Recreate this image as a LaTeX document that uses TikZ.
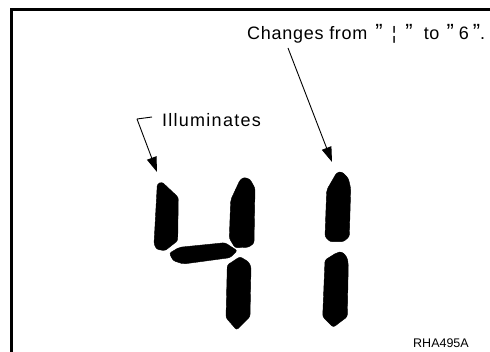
\documentclass[tikz,border=0pt]{standalone}
\usepackage{fontspec}
\setmainfont{Liberation Sans}
\usetikzlibrary{arrows.meta}
\newcommand\bigq{{\fontsize{22}{22}\selectfont ”}}
\tikzset{
  seg/.style={fill=black, draw=black, line width=0.4pt, rounded corners=2.2pt},
  pointer/.style={line width=0.9pt, -{Triangle[length=15pt,width=10pt]}},
  label/.style={anchor=base west, inner sep=0pt, font=\fontsize{18}{20}\selectfont},
  frame/.style={line width=3pt}
}
\begin{document}
\begin{tikzpicture}[x=1pt,y=-1pt]
\useasboundingbox (0,0) rectangle (490,352);
% frame (only left and top edges visible)
\draw[frame] (11.5,352) -- (11.5,9.8) -- (490,9.8);

% digit 4
\fill[seg] (157.3,184) -- (162,182) -- (178.3,197.3) -- (177.7,240.7) -- (165,250.7) -- (156.7,249.3) -- (154,244) -- cycle;
\fill[seg] (230.7,200) -- (240,180) -- (244,177.3) -- (250,179.3) -- (255,188.3) -- (254,243.3) -- (248.3,247.3) -- (235,247.7) -- (229.3,238.3) -- cycle;
\fill[seg] (169.3,253.3) -- (179.3,247.3) -- (225,242.7) -- (237.3,250.7) -- (230,257.7) -- (183.3,264) -- (173.3,260.7) -- cycle;
\fill[seg] (227.3,265) -- (240,256.7) -- (248.3,261.7) -- (251,266.7) -- (250,316.7) -- (236.7,330) -- (226,317.7) -- cycle;

% digit 1
\fill[seg] (326.7,190) -- (336.7,172.7) -- (341.7,171.7) -- (348.3,178.3) -- (350.7,188.3) -- (349.3,236.7) -- (343.3,241.7) -- (330,241.7) -- (325,236.7) -- cycle;
\fill[seg] (325,260) -- (336.7,252.7) -- (341.7,251.7) -- (346.7,256.7) -- (348.3,263.3) -- (347.3,316.7) -- (333.3,327.3) -- (322.7,316.7) -- cycle;

% labels
\node[label, font=\fontsize{18}{20}\selectfont\addfontfeature{LetterSpace=7}] (illum) at (162,126.5) {Illuminates};
\node[label, font=\fontsize{18}{20}\selectfont\addfontfeature{LetterSpace=4}] (changes) at (247,39.7) {Changes from\kern8pt\bigq\kern9pt¦\kern9pt\bigq\kern11pt to\kern7pt\bigq\kern5pt6\kern4pt\bigq.};
\node[anchor=base west, inner sep=0pt, font=\fontsize{12.5}{14}\selectfont] (code) at (413,348) {RHA495A};

% pointers
\coordinate (ilA) at (152,117);
\coordinate (ilB) at (137,119);
\coordinate (ilTip) at (157,172);
\coordinate (chA) at (288,48);
\coordinate (chTip) at (332,162);
\draw[line width=0.9pt] (ilA) -- (ilB);
\draw[pointer] (ilB) -- (ilTip);
\draw[pointer] (chA) -- (chTip);
\end{tikzpicture}
\end{document}
